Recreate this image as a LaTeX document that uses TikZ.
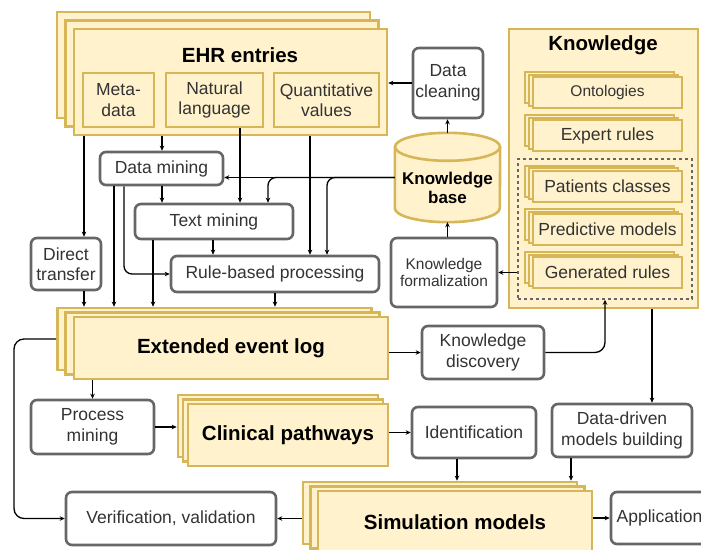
\documentclass[tikz,border=0pt]{standalone}
\usepackage{fontspec}
\setmainfont{Liberation Sans}
\usetikzlibrary{arrows.meta,shadows}

\definecolor{ehrfill}{HTML}{FFF2CC}
\definecolor{ehrline}{HTML}{D6B656}
\definecolor{procline}{HTML}{666666}
\definecolor{proctext}{HTML}{333333}

\newcommand{\txtnorm}{\fontsize{17.5}{20.5}\selectfont}
\newcommand{\txtsmall}{\fontsize{15.5}{17.5}\selectfont}
\newcommand{\txttitle}{\fontsize{20.5}{24}\selectfont\bfseries}

\tikzset{
  proc/.style={draw=procline, line width=2.6pt, rounded corners=6pt, fill=white,
    align=center, inner sep=0pt, text=proctext, font=\txtnorm},
  ybox/.style={draw=ehrline, line width=2.6pt, fill=ehrfill, align=center,
    inner sep=0pt, text=proctext, font=\txtnorm},
  stack/.style 2 args={ybox,
    copy shadow={shadow xshift=-2*#1, shadow yshift=2*#2},
    copy shadow={shadow xshift=-#1, shadow yshift=#2}},
  heading/.style={font=\txttitle, text=black},
  arr/.style={-{Stealth[length=5pt,width=4.5pt]}, line width=1.3pt, black},
}

\begin{document}
\begin{tikzpicture}[x=1pt,y=-1pt]
  \useasboundingbox (0,0) rectangle (701,549);

  % sources
  \node[stack={8.5pt}{8.5pt}, minimum width=313, minimum height=106] (ehr) at (230.5,82) {};
  \node[heading] (ehrtitle) at (240,55) {EHR entries};
  \node[ybox, minimum width=71, minimum height=54] (meta) at (118.5,100) {Meta-\\data};
  \node[ybox, minimum width=97, minimum height=54] (natl) at (214.5,100) {Natural\\language};
  \node[ybox, minimum width=105, minimum height=54] (quant) at (326.5,100) {Quantitative\\values};

  % knowledge
  \node[ybox, minimum width=189, minimum height=279] (know) at (603.5,168.5) {};
  \node[heading] (knowtitle) at (603,45) {Knowledge};
  \node[stack={4pt}{2.5pt}, line width=2pt, minimum width=149, minimum height=31, font=\txtsmall] (onto) at (607.5,92.5) {Ontologies};
  \node[stack={4pt}{2.5pt}, line width=2pt, minimum width=149, minimum height=31] (exrules) at (607.5,135.5) {Expert rules};
  \node[draw=procline, dashed, dash pattern=on 3pt off 3pt, line width=1.5pt, minimum width=174, minimum height=140] (kdash) at (605,229) {};
  \node[stack={4pt}{2.5pt}, line width=2pt, minimum width=149, minimum height=31] (pclass) at (607.5,186) {Patients classes};
  \node[stack={4pt}{2.5pt}, line width=2pt, minimum width=149, minimum height=31] (pmodel) at (607.5,229.5) {Predictive models};
  \node[stack={4pt}{2.5pt}, line width=2pt, minimum width=149, minimum height=31] (genrules) at (607.5,272.5) {Generated rules};

  % knowledge base
  \node[minimum width=105, minimum height=89, inner sep=0pt] (kb) at (447.5,177.5) {};
  \path[draw=ehrline, fill=ehrfill, line width=2.6pt] ([yshift=-14pt]kb.north west) -- ([yshift=14pt]kb.south west)
    arc[start angle=180, end angle=0, x radius=52.5, y radius=14] -- ([yshift=-14pt]kb.north east);
  \draw[draw=ehrline, fill=ehrfill, line width=2.6pt] ([yshift=-14pt]kb.north) ellipse[x radius=52.5, y radius=14];
  \node[font=\fontsize{17}{19.5}\selectfont\bfseries, align=center] (kbtext) at (447.5,188) {Knowledge\\base};

  % processing
  \node[proc, minimum width=70, minimum height=70] (datacl) at (448,83) {Data\\cleaning};
  \node[proc, minimum width=123, minimum height=33] (dmin) at (161.5,168.5) {Data mining};
  \node[proc, minimum width=158, minimum height=35] (tmin) at (214,221.5) {Text mining};
  \node[proc, minimum width=208, minimum height=36] (rbp) at (275,274) {Rule-based processing};
  \node[proc, minimum width=70, minimum height=52] (dtr) at (66,264) {Direct\\transfer};
  \node[proc, minimum width=106, minimum height=69, font=\txtsmall] (kform) at (444,272.5) {Knowledge\\formalization};

  % results
  \node[stack={8.3pt}{4.5pt}, minimum width=314, minimum height=62, font=\txttitle, text=black] (elog) at (231,348) {Extended event log};
  \node[proc, minimum width=122, minimum height=53] (kdisc) at (483,352.5) {Knowledge\\discovery};
  \node[proc, minimum width=123, minimum height=54] (pmin) at (92.5,427) {Process\\mining};
  \node[stack={5pt}{4.5pt}, minimum width=200, minimum height=62, font=\txttitle, text=black] (clinp) at (288,435) {Clinical pathways};
  \node[proc, minimum width=124, minimum height=51] (ident) at (474,432.5) {Identification};
  \node[proc, minimum width=140, minimum height=53] (ddmb) at (622,430.5) {Data-driven\\models building};
  \node[stack={7.5pt}{4.5pt}, minimum width=274, minimum height=62, font=\txttitle, text=black] (sim) at (455,522) {Simulation models};
  \node[proc, minimum width=210, minimum height=53] (verif) at (171,518.5) {Verification, validation};
  \node[proc, minimum width=97, minimum height=52] (appl) at (659.5,518) {Application};

  \coordinate (elogtop) at ([yshift=9pt]elog.north);
  \coordinate (elogleft) at ([xshift=-16.6pt,yshift=9pt]elog.west);
  \coordinate (clinleft) at ([xshift=-10pt]clinp.west);
  \coordinate (simtop) at ([yshift=9pt]sim.north);
  \coordinate (simleft) at ([xshift=-15pt]sim.west);

  % EHR outputs
  \draw[arr] (84,0 |- ehr.south) -- (84,0 |- dtr.north);
  \draw[arr] (162,0 |- ehr.south) -- (162,0 |- dmin.north);
  \draw[arr] (240,0 |- natl.south) -- (240,0 |- tmin.north);
  \draw[arr] (310,0 |- ehr.south) -- (310,0 |- rbp.north);

  % knowledge base to mining
  \draw[arr] (kb.west) -- (dmin.east |- kb.west);
  \draw[arr, rounded corners=8pt] (kb.west) -| (268,0 |- tmin.north);
  \draw[arr, rounded corners=8pt] (kb.west) -| (327,0 |- rbp.north);

  % mining to event log
  \draw[arr] (162,0 |- dmin.south) -- (162,0 |- tmin.north);
  \draw[arr] (114,0 |- dmin.south) -- (114,0 |- elogtop);
  \draw[arr, rounded corners=8pt] (124,0 |- dmin.south) |- (rbp.west);
  \draw[arr] (153,0 |- tmin.south) -- (153,0 |- elogtop);
  \draw[arr] (213,0 |- tmin.south) -- (213,0 |- rbp.north);
  \draw[arr] (84,0 |- dtr.south) -- (84,0 |- elogtop);
  \draw[arr] (rbp.south) -- (rbp.south |- elogtop);

  % knowledge loop
  \draw[arr] (kb.north) -- (kb.north |- datacl.south);
  \draw[arr] (datacl.west) -- (datacl.west -| ehr.east);
  \draw[arr] (kb.south |- kform.north) -- (kb.south);
  \draw[arr] (kform.east -| kdash.west) -- (kform.east);
  \draw[arr] (kdisc.west -| elog.east) -- (kdisc.west);
  \draw[arr, rounded corners=10pt] (kdisc.east) -| (kdash.south);
  \draw[arr] (652,0 |- know.south) -- (652,0 |- ddmb.north);

  % pathways and models
  \draw[arr] (pmin.north |- elog.south) -- (pmin.north);
  \draw[arr] (pmin.east) -- (pmin.east -| clinleft);
  \draw[arr] (ident.west -| clinp.east) -- (ident.west);
  \draw[arr] (457,0 |- ident.south) -- (457,0 |- simtop);
  \draw[arr] (571,0 |- ddmb.south) -- (571,0 |- simtop);
  \draw[arr] (sim.east |- appl.west) -- (appl.west);
  \draw[arr] (verif.east -| simleft) -- (verif.east);
  \draw[arr, rounded corners=10pt] (elogleft) -- (14,0 |- elogleft) |- (verif.west);
\end{tikzpicture}
\end{document}
